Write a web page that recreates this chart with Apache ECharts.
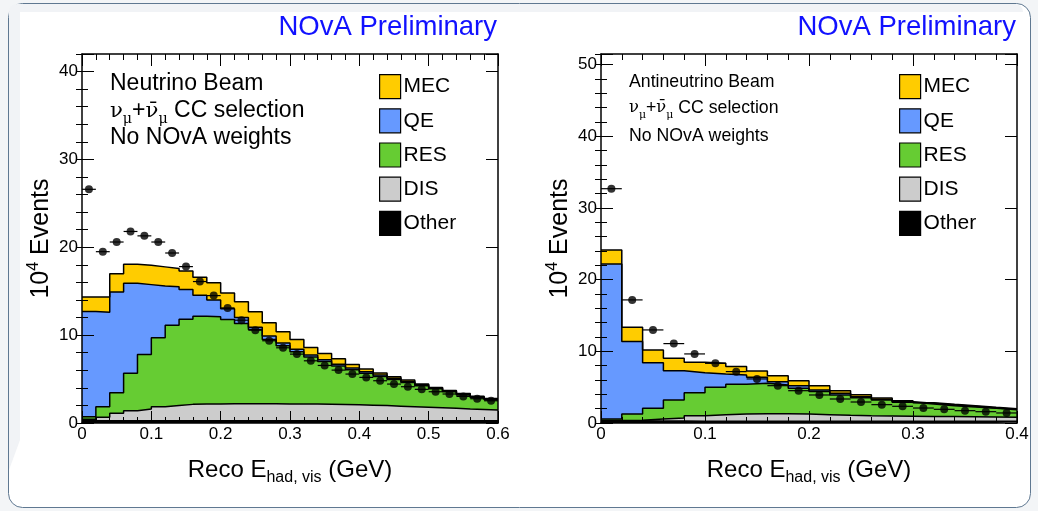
<!DOCTYPE html>
<html>
<head>
<meta charset="utf-8">
<script src="https://cdn.jsdelivr.net/npm/echarts@6/dist/echarts.min.js"></script>
<style>
html, body { margin: 0; padding: 0; background: #f3f5f7; }
#main { width: 1038px; height: 511px; }
</style>
</head>
<body>
<div id="main"></div>
<script>
const FONT = 'Liberation Sans, Arial, Helvetica, sans-serif'
const SERIF = 'DejaVu Serif, Liberation Serif, serif'

// bin width of both histograms (GeV)
const binWidth = 0.02

// neutrino beam (left panel), stack tops in 10^4 events
const nuBins = [0.01, 0.03, 0.05, 0.07, 0.09, 0.11, 0.13, 0.15, 0.17, 0.19,
  0.21, 0.23, 0.25, 0.27, 0.29, 0.31, 0.33, 0.35, 0.37, 0.39,
  0.41, 0.43, 0.45, 0.47, 0.49, 0.51, 0.53, 0.55, 0.57, 0.59]
const nuMEC = [14.35, 14.35, 17.0, 18.07, 17.95, 17.77, 17.58, 17.3, 16.6, 15.95,
  14.8, 13.8, 12.65, 11.4, 10.4, 9.5, 8.6, 7.9, 7.3, 6.67,
  6.14, 5.7, 5.26, 4.89, 4.43, 4.05, 3.7, 3.35, 3.05, 2.8]
const nuQE = [12.7, 12.6, 14.9, 15.9, 15.75, 15.6, 15.5, 15.2, 14.55, 14.0,
  13.0, 12.0, 10.9, 9.9, 9.1, 8.4, 7.75, 7.2, 6.7, 6.25,
  5.82, 5.45, 5.08, 4.72, 4.36, 4.0, 3.64, 3.27, 2.96, 2.72]
const nuRES = [0.72, 1.85, 3.44, 5.65, 7.8, 9.7, 11.14, 11.8, 12.16, 12.08,
  11.78, 11.33, 10.65, 9.5, 8.8, 8.1, 7.5, 7.0, 6.5, 6.05,
  5.65, 5.3, 4.95, 4.6, 4.25, 3.9, 3.56, 3.2, 2.9, 2.65]
const nuDIS = [0.42, 0.65, 1.1, 1.4, 1.6, 1.85, 2.0, 2.12, 2.15, 2.17,
  2.18, 2.18, 2.18, 2.18, 2.17, 2.16, 2.15, 2.13, 2.1, 2.07,
  2.03, 1.98, 1.92, 1.86, 1.8, 1.74, 1.67, 1.6, 1.54, 1.48]
const nuOther = [0.25, 0.25, 0.25, 0.25, 0.25, 0.25, 0.25, 0.25, 0.25, 0.25,
  0.25, 0.25, 0.25, 0.25, 0.25, 0.25, 0.25, 0.25, 0.25, 0.25,
  0.25, 0.25, 0.25, 0.25, 0.25, 0.25, 0.25, 0.25, 0.25, 0.25]
const nuData = [26.6, 19.5, 20.6, 21.8, 21.3, 20.6, 19.35, 17.8, 16.1, 14.5,
  13.1, 11.7, 10.57, 9.36, 8.56, 7.84, 7.08, 6.55, 6.02, 5.57,
  5.19, 4.81, 4.43, 4.13, 3.83, 3.56, 3.3, 3.03, 2.76, 2.53]

// antineutrino beam (right panel)
const anuBins = [0.01, 0.03, 0.05, 0.07, 0.09, 0.11, 0.13, 0.15, 0.17, 0.19,
  0.21, 0.23, 0.25, 0.27, 0.29, 0.31, 0.33, 0.35, 0.37, 0.39]
const anuMEC = [24.16, 13.36, 10.2, 9.03, 8.47, 8.33, 7.87, 7.26, 6.6, 5.91,
  5.21, 4.51, 3.95, 3.49, 3.12, 2.84, 2.61, 2.42, 2.19, 2.0]
const anuQE = [22.2, 11.36, 8.42, 7.3, 7.03, 6.84, 6.7, 6.38, 5.77, 5.21,
  4.6, 4.15, 3.67, 3.3, 2.98, 2.75, 2.51, 2.33, 2.1, 1.91]
const anuRES = [0.56, 1.26, 2.05, 3.2, 4.23, 4.98, 5.4, 5.54, 5.3, 4.84,
  4.38, 3.91, 3.54, 3.2, 2.89, 2.65, 2.42, 2.23, 2.05, 1.86]
const anuDIS = [0.35, 0.4, 0.55, 0.7, 1.0, 1.16, 1.26, 1.3, 1.3, 1.25,
  1.16, 1.07, 1.0, 0.98, 0.95, 0.92, 0.9, 0.87, 0.84, 0.8]
const anuOther = [0.3, 0.3, 0.28, 0.27, 0.26, 0.25, 0.25, 0.25, 0.25, 0.25,
  0.25, 0.25, 0.25, 0.25, 0.25, 0.25, 0.25, 0.25, 0.25, 0.25]
const anuData = [32.7, 17.18, 12.99, 11.08, 9.64, 8.33, 7.17, 6.15, 5.21, 4.51,
  3.91, 3.35, 2.93, 2.56, 2.33, 2.09, 1.91, 1.72, 1.58, 1.4]

const components = ['MEC', 'QE', 'RES', 'DIS', 'Other']
const colors = {MEC: '#ffcc00', QE: '#6699ff', RES: '#66cc33', DIS: '#cccccc', Other: '#000000'}

// bin contents -> step outline through the bin edges
const stepLine = function (bins, tops) {
  let pts = bins.map((x, i) => [x - binWidth / 2, tops[i]])
  pts.push([bins[bins.length - 1] + binWidth / 2, tops[tops.length - 1]])
  return pts
}

const histSeries = function (name, bins, tops, xi, yi) {
  return {
    name: name,
    type: 'line',
    step: 'end',
    xAxisIndex: xi,
    yAxisIndex: yi,
    data: stepLine(bins, tops),
    symbol: 'none',
    silent: true,
    lineStyle: {color: '#000', width: 1.5},
    areaStyle: {color: colors[name], opacity: 1},
    itemStyle: {color: colors[name]},
    z: 2
  }
}

const dataSeries = function (bins, vals, xi, yi) {
  let pts = bins.map((x, i) => [x, vals[i]])
  return [
    {
      type: 'custom',
      xAxisIndex: xi,
      yAxisIndex: yi,
      data: pts,
      silent: true,
      z: 5,
      renderItem: function (params, api) {
        let a = api.coord([api.value(0) - binWidth / 2, api.value(1)])
        let b = api.coord([api.value(0) + binWidth / 2, api.value(1)])
        return {type: 'line', shape: {x1: a[0], y1: a[1], x2: b[0], y2: b[1]}, style: {stroke: '#000', lineWidth: 1.2}}
      }
    },
    {
      name: 'Data',
      type: 'scatter',
      xAxisIndex: xi,
      yAxisIndex: yi,
      data: pts,
      symbol: 'circle',
      symbolSize: 8,
      silent: true,
      itemStyle: {color: '#000'},
      z: 6
    }
  ]
}

const tick = {color: '#000', width: 1}
const xAxes = function (gi, xmax) {
  let base = {
    gridIndex: gi, type: 'value', min: 0, max: xmax, interval: 0.1, z: 5,
    axisLine: {show: true, onZero: false, lineStyle: {color: '#000', width: 1.5}},
    axisTick: {show: true, inside: true, length: 12, lineStyle: tick},
    minorTick: {show: true, splitNumber: 5, length: 6, lineStyle: tick},
    splitLine: {show: false}
  }
  return [
    Object.assign({}, base, {
      position: 'bottom',
      axisLabel: {margin: 3, fontSize: 17, fontFamily: FONT, color: '#000', formatter: v => String(Number(v.toFixed(2)))},
      name: '{t|Reco E}{s|had, vis}{t| (GeV)}',
      nameLocation: 'middle',
      nameGap: 31,
      nameTextStyle: {
        color: '#000',
        rich: {
          t: {fontSize: 24, fontFamily: FONT, color: '#000', lineHeight: 32},
          s: {fontSize: 16, fontFamily: FONT, color: '#000', lineHeight: 16, verticalAlign: 'bottom'}
        }
      }
    }),
    Object.assign({}, base, {position: 'top', axisLabel: {show: false}})
  ]
}

const yAxes = function (gi, ymax) {
  let base = {gridIndex: gi, type: 'value', min: 0, max: ymax, z: 5, splitLine: {show: false}}
  let major = Object.assign({}, base, {
    interval: 10,
    axisLine: {show: true, onZero: false, lineStyle: {color: '#000', width: 1.5}},
    axisTick: {show: true, inside: true, length: 12, lineStyle: tick}
  })
  let minor = Object.assign({}, base, {
    interval: 2,
    axisLine: {show: false},
    axisTick: {show: true, inside: true, length: 6, lineStyle: tick},
    axisLabel: {show: false}
  })
  return [
    Object.assign({}, major, {
      position: 'left',
      axisLabel: {margin: 4, fontSize: 17, fontFamily: FONT, color: '#000', formatter: v => (v % 10 === 0 ? String(v) : '')},
      name: '{t|10}{p|4}{t| Events}',
      nameLocation: 'middle',
      nameGap: 26,
      nameTextStyle: {
        color: '#000',
        rich: {
          t: {fontSize: 25, fontFamily: FONT, color: '#000', lineHeight: 30},
          p: {fontSize: 16, fontFamily: FONT, color: '#000', lineHeight: 16, verticalAlign: 'top'}
        }
      }
    }),
    Object.assign({}, minor, {position: 'left'}),
    Object.assign({}, major, {position: 'right', axisLabel: {show: false}}),
    Object.assign({}, minor, {position: 'right'})
  ]
}

const legendFor = function (left) {
  return {
    left: left,
    top: 74,
    orient: 'vertical',
    padding: 0,
    icon: 'rect',
    itemWidth: 21,
    itemHeight: 24,
    itemGap: 9,
    selectedMode: false,
    textStyle: {fontSize: 21, fontFamily: FONT, color: '#000', padding: [0, 0, 0, -2]},
    data: components.map(n => ({name: n, itemStyle: {color: colors[n], borderColor: '#000', borderWidth: 1.2}}))
  }
}

const note = function (x, y, size, text) {
  return {
    type: 'text',
    x: x,
    y: y,
    z: 10,
    style: {
      text: text,
      fill: '#000',
      align: 'left',
      verticalAlign: 'middle',
      rich: {
        t: {fontSize: size, fontFamily: FONT, fill: '#000', lineHeight: size + 8},
        g: {fontSize: size * 0.92, fontFamily: SERIF, fill: '#000', lineHeight: size + 8},
        s: {fontSize: size * 0.62, fontFamily: SERIF, fill: '#000', lineHeight: size * 0.62, verticalAlign: 'bottom'}
      }
    }
  }
}
const selection = '{g|\u03bd}{s|\u03bc}{t|+}{g|\u03bd\u0304}{s|\u03bc}{t| CC selection}'

const prelim = function (x) {
  return {
    type: 'text', x: x, y: 27, z: 10,
    style: {text: 'NOvA Preliminary', fill: '#1111ff', font: '27.5px ' + FONT, align: 'right', verticalAlign: 'middle'}
  }
}

let series = []
const nuTops = {MEC: nuMEC, QE: nuQE, RES: nuRES, DIS: nuDIS, Other: nuOther}
const anuTops = {MEC: anuMEC, QE: anuQE, RES: anuRES, DIS: anuDIS, Other: anuOther}
components.forEach(n => series.push(histSeries(n, nuBins, nuTops[n], 0, 0)))
series = series.concat(dataSeries(nuBins, nuData, 0, 0))
components.forEach(n => series.push(histSeries(n, anuBins, anuTops[n], 2, 4)))
series = series.concat(dataSeries(anuBins, anuData, 2, 4))

let option = {
  animation: false,
  backgroundColor: '#f3f5f7',
  grid: [
    {left: 82, top: 54, width: 416, height: 369},
    {left: 601, top: 54, width: 416, height: 369}
  ],
  xAxis: xAxes(0, 0.6).concat(xAxes(1, 0.4)),
  yAxis: yAxes(0, 42).concat(yAxes(1, 51.5)),
  legend: [legendFor(379), legendFor(899)],
  graphic: [
    {
      type: 'rect', z: -10, silent: true,
      shape: {x: 8.5, y: 3.5, width: 1022, height: 504, r: 14},
      style: {fill: '#ffffff', stroke: '#5f7891', lineWidth: 1}
    },
    {type: 'rect', z: -9, silent: true, shape: {x: 9, y: 4, width: 1014, height: 8, r: [13, 13, 0, 0]}, style: {fill: '#f1f3f6'}},
    {type: 'polygon', z: -9, silent: true, shape: {points: [[9, 12], [20, 12], [20, 440], [9, 470]]}, style: {fill: '#f1f3f6'}},
    prelim(497),
    prelim(1016),
    note(110, 84, 23, '{t|Neutrino Beam}'),
    note(110, 111, 23, selection),
    note(110, 138, 23, '{t|No NOvA weights}'),
    note(629, 82, 17.7, '{t|Antineutrino Beam}'),
    note(629, 108, 17.7, selection),
    note(629, 136, 17.7, '{t|No NOvA weights}')
  ],
  series: series
}

echarts.init(document.getElementById('main')).setOption(option)
</script>
</body>
</html>
